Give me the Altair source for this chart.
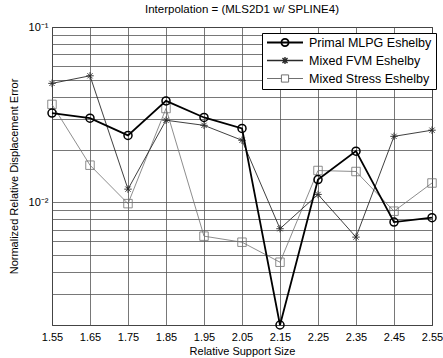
import altair as alt
import pandas as pd

support = [1.55, 1.65, 1.75, 1.85, 1.95, 2.05, 2.15, 2.25, 2.35, 2.45, 2.55]
primal = [0.0323, 0.0302, 0.0241, 0.0379, 0.0305, 0.0264, 0.0020, 0.0135, 0.0196, 0.00772, 0.00818]
fvm = [0.0477, 0.0527, 0.0119, 0.0294, 0.0275, 0.0226, 0.00708, 0.0111, 0.00634, 0.0238, 0.0258]
stress = [0.0362, 0.0163, 0.00984, 0.0343, 0.00642, 0.00593, 0.00456, 0.0152, 0.0150, 0.00891, 0.0129]
series_names = ["Primal MLPG Eshelby", "Mixed FVM Eshelby", "Mixed Stress Eshelby"]
y_grid = [0.002, 0.003, 0.004, 0.005, 0.006, 0.007, 0.008, 0.009,
          0.01, 0.02, 0.03, 0.04, 0.05, 0.06, 0.07, 0.08, 0.09, 0.1]

rows = []
for name, vals in zip(series_names, [primal, fvm, stress]):
    for xv, v in zip(support, vals):
        rows.append({"series": name, "support": xv, "error": v})
df = pd.DataFrame(rows)

FONT = "Liberation Sans"
colors = ["#000000", "#2a2a2a", "#707070"]
line_w = [1.8, 0.9, 0.8]
star = "M-1,0L1,0M0,-1L0,1M-0.7,-0.7L0.7,0.7M-0.7,0.7L0.7,-0.7"
marker_shapes = ["circle", star, "square"]
marker_sizes = [64, 56, 72]
marker_sw = [1.5, 0.9, 0.8]
legend_paths = [
    "M-1,0L1,0M-0.2,0A0.2,0.2 0 1,1 0.2,0A0.2,0.2 0 1,1 -0.2,0Z",
    "M-1,0L1,0M0,-0.2L0,0.2M-0.14,-0.14L0.14,0.14M-0.14,0.14L0.14,-0.14",
    "M-1,0L-0.2,0M0.2,0L1,0M-0.2,-0.2L0.2,-0.2L0.2,0.2L-0.2,0.2Z",
]

x_enc = alt.X(
    "support:Q",
    scale=alt.Scale(domain=[1.55, 2.55], nice=False, zero=False),
    axis=alt.Axis(values=support, format=".2f", title="Relative Support Size",
                  grid=True, ticks=False, labelPadding=6, titlePadding=3,
                  labelFlush=False, titleFontWeight="normal"),
)
y_enc = alt.Y(
    "error:Q",
    scale=alt.Scale(type="log", domain=[0.002, 0.1], nice=False),
    axis=alt.Axis(values=y_grid,
                  labelExpr="datum.value == 0.1 ? '10⁻¹' : (datum.value == 0.01 ? '10⁻²' : '')",
                  title="Normalized Relative Displacement Error",
                  grid=True, ticks=False, labelPadding=4, titlePadding=9,
                  titleFontWeight="normal"),
)

base = alt.Chart(df)
layers = []
for i in [2, 1, 0]:
    name = series_names[i]
    sub = base.transform_filter(alt.datum.series == name)
    layers.append(sub.mark_line(color=colors[i], strokeWidth=line_w[i]).encode(x=x_enc, y=y_enc))
    layers.append(sub.mark_point(shape=marker_shapes[i], filled=False, color=colors[i],
                                 size=marker_sizes[i], strokeWidth=marker_sw[i], opacity=1)
                  .encode(x=x_enc, y=y_enc))

legend_layer = base.transform_filter("false").mark_point(filled=False, size=1296, opacity=1).encode(
    x=x_enc, y=y_enc,
    color=alt.Color("series:N", scale=alt.Scale(domain=series_names, range=colors),
                    legend=alt.Legend(title=None, orient="none", legendX=210, legendY=6,
                                      fillColor="white", strokeColor="black",
                                      padding=4, clipHeight=11, rowPadding=5,
                                      symbolSize=1296, labelFontSize=12.5, labelFont=FONT,
                                      labelColor="black", labelOffset=5,
                                      symbolOpacity=1)),
    shape=alt.Shape("series:N", scale=alt.Scale(domain=series_names, range=legend_paths)),
    strokeWidth=alt.StrokeWidth("series:N", scale=alt.Scale(domain=series_names, range=[1.8, 1.0, 0.9])),
)

chart = alt.layer(*layers, legend_layer).properties(
    width=380, height=298,
    title=alt.TitleParams("Interpolation = (MLS2D1 w/ SPLINE4)", fontSize=11.5, font=FONT,
                          fontWeight="normal", anchor="middle", offset=6, color="black"),
    autosize=alt.AutoSizeParams(type="none"),
    padding={"left": 52, "top": 27, "right": 11, "bottom": 33},
).configure_view(stroke="black", strokeWidth=1).configure_axis(
    gridColor="#555555", gridWidth=0.8, gridOpacity=1, domain=False,
    labelFont=FONT, titleFont=FONT, labelFontSize=11, titleFontSize=11,
    titleFontWeight="normal", labelColor="black", titleColor="black",
)

chart.save("out.html", embed_options={"renderer": "svg", "actions": False})
